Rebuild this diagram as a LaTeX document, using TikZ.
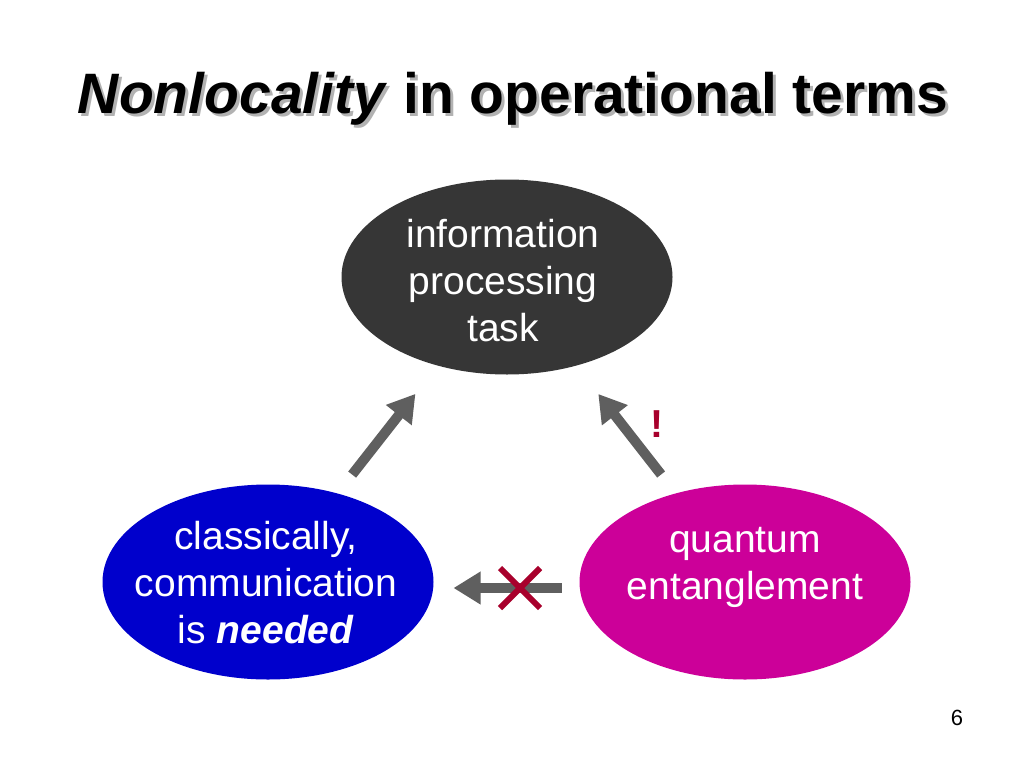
\documentclass[tikz,border=0pt]{standalone}
\usepackage{fontspec}
\setmainfont{Liberation Sans}
\usetikzlibrary{shapes.geometric,shapes.misc,arrows.meta}
\definecolor{topgray}{HTML}{363636}
\definecolor{ellblue}{HTML}{0000CC}
\definecolor{ellmag}{HTML}{CC0099}
\definecolor{arrgray}{HTML}{5F5F5F}
\definecolor{xred}{HTML}{A8002C}
\tikzset{
  bubble/.style={ellipse, minimum width=331pt, minimum height=195pt, inner sep=0pt, outer sep=0pt},
  bubtext/.style={text=white, align=center, font=\fontsize{39}{47}\selectfont, inner sep=0pt},
  bigarrow/.style={draw=arrgray, line width=10pt, -{Triangle[length=27pt,width=31pt]}},
  titletext/.style={font=\fontsize{57}{68}\selectfont\bfseries, inner sep=0pt}
}
\begin{document}
\begin{tikzpicture}[x=1pt,y=-1pt]
\useasboundingbox (0,0) rectangle (1024,768);
\fill[white] (0,0) rectangle (1024,768);
% title with shadow
\node[titletext, text=gray!60] (titleshadow) at (516,102) {\textit{Nonlocality} in operational terms};
\node[titletext, text=black] (title) at (513,99) {\textit{Nonlocality} in operational terms};
% ellipses
\node[bubble, fill=topgray] (task) at (507,277) {};
\node[bubble, fill=ellblue] (cl) at (268,582) {};
\node[bubble, fill=ellmag] (qe) at (745,582) {};
\node[bubtext] (tasktxt) at (503,281) {information\\processing\\task};
\node[bubtext] (cltxt) at (266,583) {classically,\\communication\\is \textbf{\textit{needed}}};
\node[bubtext] (qetxt) at (745,567) {quantum\\entanglement};
% arrows
\draw[bigarrow, shorten <=24pt, shorten >=36pt] (cl) -- (task);
\draw[bigarrow, shorten <=24pt, shorten >=36pt] (qe) -- (task);
\draw[bigarrow, shorten <=18pt, shorten >=20pt] ([yshift=-6pt]qe.west) -- ([yshift=-6pt]cl.east);
% cross and exclamation
\node[cross out, draw=xred, line width=6pt, minimum size=34pt, inner sep=0pt] (nope) at (520,588) {};
\node[text=xred, font=\fontsize{39}{44}\selectfont\bfseries, inner sep=0pt] (bang) at (657,424) {!};
% page number
\node[font=\fontsize{22}{26}\selectfont] (pagenum) at (957,718) {6};
\end{tikzpicture}
\end{document}
